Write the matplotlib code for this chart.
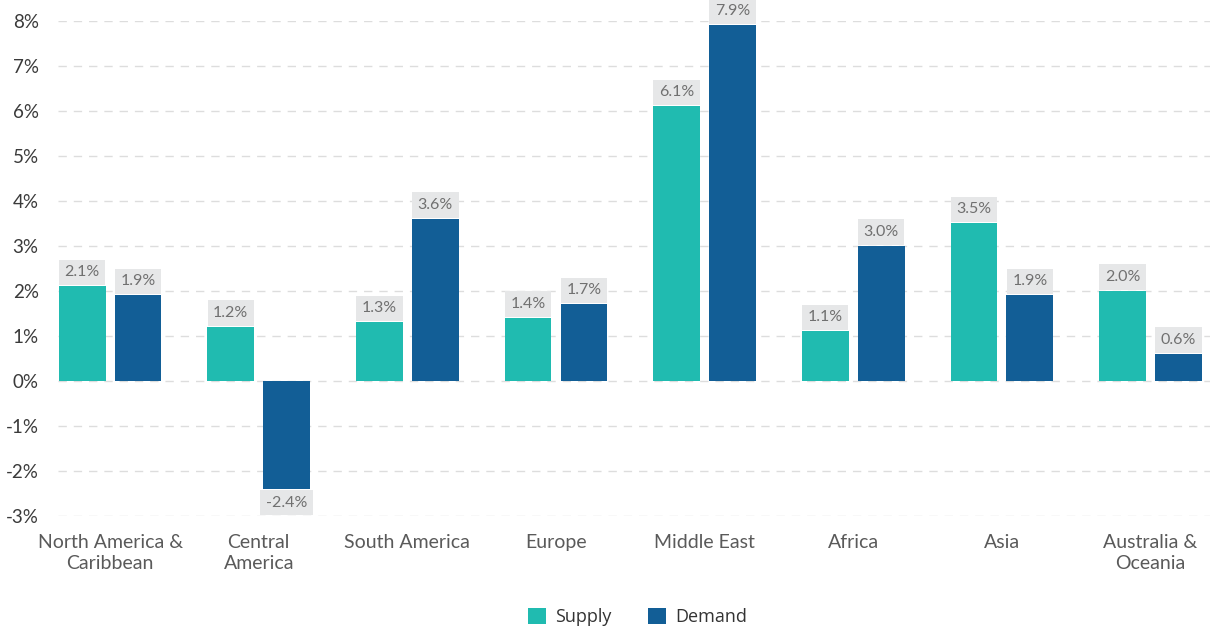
import matplotlib.pyplot as plt
import numpy as np

regions = ["North America &\nCaribbean", "Central\nAmerica", "South America", "Europe",
           "Middle East", "Africa", "Asia", "Australia &\nOceania"]
supply = [2.1, 1.2, 1.3, 1.4, 6.1, 1.1, 3.5, 2.0]
demand = [1.9, -2.4, 3.6, 1.7, 7.9, 3.0, 1.9, 0.6]
yticks = [-3, -2, -1, 0, 1, 2, 3, 4, 5, 6, 7, 8]

c_supply = "#20bbb0"
c_demand = "#125e96"

plt.rcParams['font.family'] = ['Lato', 'DejaVu Sans']

fig = plt.figure(figsize=(12.1, 6.3), dpi=100)
ax = fig.add_axes([0.048, 0.181, 0.952, 0.786])

x = np.arange(len(regions))
w = 0.315
off = 0.188
b1 = ax.bar(x - off, supply, w, color=c_supply, label="Supply", zorder=3)
b2 = ax.bar(x + off, demand, w, color=c_demand, label="Demand", zorder=3)

# value tags in grey boxes above (or below) each bar
for bars, vals in [(b1, supply), (b2, demand)]:
    for bar, v in zip(bars, vals):
        cx = bar.get_x() + bar.get_width() / 2
        up = v >= 0
        ax.annotate(f"{v:.1f}%", (cx, v), xytext=(0, 5 if up else -5),
                    textcoords="offset points", ha="center",
                    va="bottom" if up else "top", fontsize=11.5, color="#707070",
                    annotation_clip=False,
                    bbox=dict(boxstyle="square,pad=0.35", fc="#e6e7e8", ec="none"))

ax.set_ylim(-3, 8)
ax.set_xlim(-0.35, 7.4)
ax.set_yticks(yticks)
ax.set_yticklabels([f"{t}%" for t in yticks])
ax.set_xticks(x)
ax.set_xticklabels(regions, linespacing=1.3)
ax.tick_params(axis='y', length=0, labelsize=13.5, labelcolor="#3a3a3a", pad=14)
ax.tick_params(axis='x', length=0, labelsize=14, labelcolor="#5a5a5a", pad=13)
ax.yaxis.grid(True, color="#dddddd", linestyle=(0, (6, 5)), linewidth=1, zorder=0)
for s in ax.spines.values():
    s.set_visible(False)

leg = fig.legend(handles=[b1, b2], loc="lower center", bbox_to_anchor=(0.527, -0.02),
                 ncol=2, frameon=False, fontsize=13, handlelength=1.0, handleheight=1.0,
                 handletextpad=0.5, columnspacing=2.0)
for t in leg.get_texts():
    t.set_color("#333333")
    t.set_family(['Open Sans', 'DejaVu Sans'])

plt.savefig("out.png", dpi=100)
